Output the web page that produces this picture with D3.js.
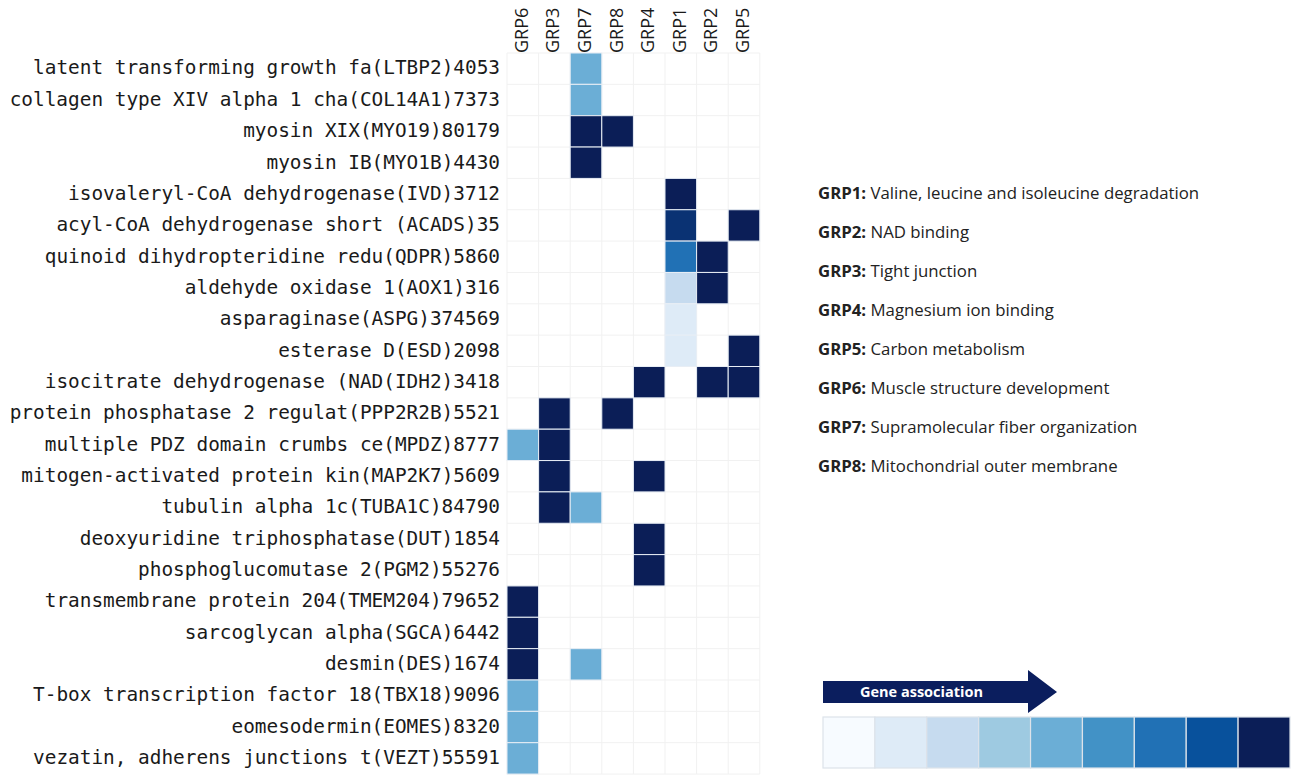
<!DOCTYPE html>
<html>
<head>
<meta charset="utf-8">
<script src="https://cdn.jsdelivr.net/npm/d3@7"></script>
<style>
  body { margin: 0; background: #fff; }
  svg { display: block; }
</style>
</head>
<body>
<svg id="heatmap"></svg>
<script>
const outerWidth = 1293;
const outerHeight = 777;

// column order as shown
const groups = ["GRP6", "GRP3", "GRP7", "GRP8", "GRP4", "GRP1", "GRP2", "GRP5"];

const genes = [
    "latent transforming growth fa(LTBP2)4053",
    "collagen type XIV alpha 1 cha(COL14A1)7373",
    "myosin XIX(MYO19)80179",
    "myosin IB(MYO1B)4430",
    "isovaleryl-CoA dehydrogenase(IVD)3712",
    "acyl-CoA dehydrogenase short (ACADS)35",
    "quinoid dihydropteridine redu(QDPR)5860",
    "aldehyde oxidase 1(AOX1)316",
    "asparaginase(ASPG)374569",
    "esterase D(ESD)2098",
    "isocitrate dehydrogenase (NAD(IDH2)3418",
    "protein phosphatase 2 regulat(PPP2R2B)5521",
    "multiple PDZ domain crumbs ce(MPDZ)8777",
    "mitogen-activated protein kin(MAP2K7)5609",
    "tubulin alpha 1c(TUBA1C)84790",
    "deoxyuridine triphosphatase(DUT)1854",
    "phosphoglucomutase 2(PGM2)55276",
    "transmembrane protein 204(TMEM204)79652",
    "sarcoglycan alpha(SGCA)6442",
    "desmin(DES)1674",
    "T-box transcription factor 18(TBX18)9096",
    "eomesodermin(EOMES)8320",
    "vezatin, adherens junctions t(VEZT)55591"
];

// association level per gene (rows) and group (columns, same order as groups); 0 = none
const levels = [
    [0, 0, 5, 0, 0, 0, 0, 0],
    [0, 0, 5, 0, 0, 0, 0, 0],
    [0, 0, 9, 9, 0, 0, 0, 0],
    [0, 0, 9, 0, 0, 0, 0, 0],
    [0, 0, 0, 0, 0, 9, 0, 0],
    [0, 0, 0, 0, 0, 8.6, 0, 9],
    [0, 0, 0, 0, 0, 7, 9, 0],
    [0, 0, 0, 0, 0, 3, 9, 0],
    [0, 0, 0, 0, 0, 2, 0, 0],
    [0, 0, 0, 0, 0, 2, 0, 9],
    [0, 0, 0, 0, 9, 0, 9, 9],
    [0, 9, 0, 9, 0, 0, 0, 0],
    [5, 9, 0, 0, 0, 0, 0, 0],
    [0, 9, 0, 0, 9, 0, 0, 0],
    [0, 9, 5, 0, 0, 0, 0, 0],
    [0, 0, 0, 0, 9, 0, 0, 0],
    [0, 0, 0, 0, 9, 0, 0, 0],
    [9, 0, 0, 0, 0, 0, 0, 0],
    [9, 0, 0, 0, 0, 0, 0, 0],
    [9, 0, 5, 0, 0, 0, 0, 0],
    [5, 0, 0, 0, 0, 0, 0, 0],
    [5, 0, 0, 0, 0, 0, 0, 0],
    [5, 0, 0, 0, 0, 0, 0, 0]
];

const groupNames = ["GRP1", "GRP2", "GRP3", "GRP4", "GRP5", "GRP6", "GRP7", "GRP8"];
const groupTerms = [
    "Valine, leucine and isoleucine degradation",
    "NAD binding",
    "Tight junction",
    "Magnesium ion binding",
    "Carbon metabolism",
    "Muscle structure development",
    "Supramolecular fiber organization",
    "Mitochondrial outer membrane"
];

const legendSteps = [1, 2, 3, 4, 5, 6, 7, 8, 9];
const palette = ["#f7fbff", "#deebf7", "#c6dbef", "#9ecae1", "#6baed6", "#4292c6", "#2171b5", "#08519c", "#0b1e57"];

const color = d3.scaleLinear().domain(legendSteps).range(palette);

const grid = { left: 507, top: 53, cellW: 31.6, cellH: 31.35 };
const gridW = grid.cellW * groups.length;
const gridH = grid.cellH * genes.length;

const svg = d3.select("#heatmap")
    .attr("width", outerWidth)
    .attr("height", outerHeight)
    .attr("viewBox", `0 0 ${outerWidth} ${outerHeight}`);

const x = d3.scaleBand().domain(groups).range([grid.left, grid.left + gridW]);
const y = d3.scaleBand().domain(genes).range([grid.top, grid.top + gridH]);

// faint background grid
const bg = svg.append("g");
bg.selectAll("line.v")
    .data(d3.range(groups.length + 1))
    .enter().append("line")
    .attr("x1", i => grid.left + i * grid.cellW)
    .attr("x2", i => grid.left + i * grid.cellW)
    .attr("y1", grid.top)
    .attr("y2", grid.top + gridH)
    .attr("stroke", "#f1f1f1")
    .attr("stroke-width", 1);
bg.selectAll("line.h")
    .data(d3.range(genes.length + 1))
    .enter().append("line")
    .attr("x1", grid.left)
    .attr("x2", grid.left + gridW)
    .attr("y1", i => grid.top + i * grid.cellH)
    .attr("y2", i => grid.top + i * grid.cellH)
    .attr("stroke", "#f1f1f1")
    .attr("stroke-width", 1);

const cells = [];
genes.forEach((g, r) => groups.forEach((c, j) => {
    if (levels[r][j] > 0) cells.push({ gene: g, group: c, v: levels[r][j] });
}));

svg.append("g")
    .selectAll("rect")
    .data(cells)
    .enter().append("rect")
    .attr("x", d => x(d.group))
    .attr("y", d => y(d.gene))
    .attr("width", x.bandwidth())
    .attr("height", y.bandwidth())
    .attr("fill", d => color(d.v))
    .attr("stroke", "#e8eef5")
    .attr("stroke-width", 1);

// row labels
svg.append("g")
    .selectAll("text")
    .data(genes)
    .enter().append("text")
    .attr("x", 500)
    .attr("y", d => y(d) + y.bandwidth() / 2 - 1)
    .attr("dy", "0.35em")
    .attr("text-anchor", "end")
    .style("font-family", "'DejaVu Sans Mono', monospace")
    .style("font-size", "19.4px")
    .style("fill", "#1a1a1a")
    .text(d => d);

// column labels
svg.append("g")
    .selectAll("text")
    .data(groups)
    .enter().append("text")
    .attr("transform", d => `translate(${x(d) + x.bandwidth() / 2 + 5},53) rotate(-90)`)
    .attr("text-anchor", "start")
    .style("font-family", "'Open Sans', sans-serif")
    .style("font-size", "18px")
    .style("fill", "#1a1a1a")
    .text(d => d);

// group descriptions
const desc = svg.append("g");
groupNames.forEach((name, i) => {
    const t = desc.append("text")
        .attr("x", 818)
        .attr("y", 199 + i * 39)
        .style("font-family", "'Open Sans', sans-serif")
        .style("font-size", "16.8px")
        .style("fill", "#222");
    t.append("tspan").style("font-weight", "bold").text(name + ":");
    t.append("tspan").text(" " + groupTerms[i]);
});

// gene association arrow
const arrow = svg.append("g");
arrow.append("path")
    .attr("d", "M823,681 L1028,681 L1028,670 L1057,692 L1028,713 L1028,703 L823,703 Z")
    .attr("fill", "#0b1e5e");
arrow.append("text")
    .attr("x", 860)
    .attr("y", 697)
    .style("font-family", "'Open Sans', sans-serif")
    .style("font-size", "14.5px")
    .style("font-weight", "bold")
    .style("fill", "#fff")
    .text("Gene association");

// colour steps
const lx = d3.scaleBand().domain(legendSteps).range([823, 1290]);
svg.append("g")
    .selectAll("rect")
    .data(legendSteps)
    .enter().append("rect")
    .attr("x", d => lx(d))
    .attr("y", 717)
    .attr("width", lx.bandwidth())
    .attr("height", 51)
    .attr("fill", d => color(d))
    .attr("stroke", "#dde3ea")
    .attr("stroke-width", 1.2);
</script>
</body>
</html>
